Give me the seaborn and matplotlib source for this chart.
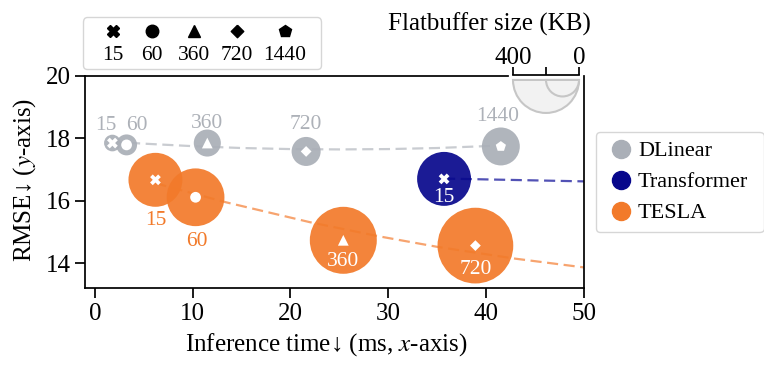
import matplotlib
matplotlib.use("Agg")
import matplotlib.pyplot as plt
from matplotlib.patches import Wedge
from matplotlib.lines import Line2D
from matplotlib.offsetbox import VPacker, DrawingArea
import numpy as np
import pandas as pd
import seaborn as sns

# values
models = ["DLinear", "DLinear", "DLinear", "DLinear", "DLinear",
          "Transformer", "TESLA", "TESLA", "TESLA", "TESLA"]
horizons = [15, 60, 360, 720, 1440, 15, 15, 60, 360, 720]
inference_ms = [1.8, 3.25, 11.5, 21.6, 41.5, 35.7, 6.2, 10.3, 25.4, 38.9]
rmse = [17.85, 17.79, 17.85, 17.58, 17.74, 16.70, 16.67, 16.11, 14.73, 14.56]
flatbuffer_kb = [101, 127, 164, 176, 230, 327, 327, 350, 406, 459]

# dashed trend lines
dlinear_trend_ms = [1.8, 5, 10, 15, 20, 25, 30, 35, 41.5]
dlinear_trend_rmse = [17.89, 17.83, 17.75, 17.69, 17.656, 17.645, 17.656, 17.69, 17.77]
transformer_trend_ms = [35.7, 50]
transformer_trend_rmse = [16.71, 16.62]
tesla_trend_ms = [6.2, 13.4, 22, 29, 35, 43, 50]
tesla_trend_rmse = [16.56, 15.95, 15.31, 14.86, 14.52, 14.14, 13.86]

model_order = ["DLinear", "Transformer", "TESLA"]
horizon_order = [15, 60, 360, 720, 1440]
size_ticks = [400, 200, 0]
size_tick_labels = ["400", "", "0"]
size_circles = [400, 200]

palette = {"DLinear": "#aaafb7", "Transformer": "#07078c", "TESLA": "#f27a2a"}
line_colors = {"DLinear": "#c9ccd1", "Transformer": "#5252b5", "TESLA": "#f7a46f"}
label_colors = ["#adb1b8"] * 5 + ["white", "#f27a2a", "#f27a2a", "white", "white"]
# label offsets from bubble centre in pixels (x right, y down)
label_offsets = [(-7, -20), (10, -22), (0, -22), (0, -29), (-3, -32),
                 (0, 16), (0, 38), (1, 42), (0, 19), (0, 21)]

diamond = np.array([(0, 1), (1, 0), (0, -1), (-1, 0), (0, 1)])
markers = {15: "X", 60: "o", 360: "^", 720: diamond, 1440: "p"}

sns.set_theme(style="ticks")
plt.rcParams["font.family"] = ["Liberation Serif", "DejaVu Serif"]
plt.rcParams["mathtext.fontset"] = "stix"
for k in ["text.color", "axes.labelcolor", "xtick.color", "ytick.color", "axes.edgecolor"]:
    plt.rcParams[k] = "black"

W, H, DPI = 764, 376, 100
fig = plt.figure(figsize=(W / DPI, H / DPI), dpi=DPI)
ax = fig.add_axes([85 / W, 1 - 288 / H, (584 - 85) / W, (288 - 76) / H])

df = pd.DataFrame({"model": models, "horizon": horizons, "ms": inference_ms,
                   "rmse": rmse, "kb": flatbuffer_kb})
df["area"] = df["kb"] ** 2

# bubble diameter is linear in flatbuffer size
px_per_kb = 66 / 400
kb_max = 500
s_max = (kb_max * px_per_kb * 72 / DPI) ** 2

for m, xs, ys in [("DLinear", dlinear_trend_ms, dlinear_trend_rmse),
                  ("Transformer", transformer_trend_ms, transformer_trend_rmse),
                  ("TESLA", tesla_trend_ms, tesla_trend_rmse)]:
    sns.lineplot(x=xs, y=ys, color=line_colors[m], lw=1.6, linestyle=(0, (5, 2.5)),
                 sort=False, estimator=None, ax=ax, zorder=2)

sns.scatterplot(data=df, x="ms", y="rmse", hue="model", palette=palette,
                hue_order=model_order, size="area", sizes=(0, s_max),
                size_norm=(0, kb_max ** 2), alpha=0.92, linewidth=0,
                legend=False, ax=ax, zorder=3)
sns.scatterplot(data=df, x="ms", y="rmse", style="horizon", markers=markers,
                color="white", s=60, linewidth=0, legend=False, ax=ax, zorder=4)

for i, row in df.iterrows():
    dx, dy = label_offsets[i]
    ax.annotate(str(row["horizon"]), (row["ms"], row["rmse"]),
                xytext=(dx * 72 / DPI, -dy * 72 / DPI), textcoords="offset points",
                ha="center", va="center_baseline", fontsize=15.5,
                color=label_colors[i], zorder=5)

ax.set_xlim(-1, 50)
ax.set_ylim(13.2, 20)
ax.set_xticks([0, 10, 20, 30, 40, 50])
ax.set_yticks([14, 16, 18, 20])
ax.tick_params(direction="out", length=7, width=1.25, labelsize=18, pad=3.5)
for sp in ax.spines.values():
    sp.set_linewidth(1.25)
ax.spines["top"].set_bounds(-1, 42.2)
ax.set_xlabel("Inference time\u2193 (ms, $x$-axis)", fontsize=18)
ax.set_ylabel("RMSE\u2193 ($y$-axis)", fontsize=18)
ax.xaxis.set_label_coords(0.483, -0.205)
ax.yaxis.set_label_coords(-0.094, 0.51)


def pad_sides(leg, left=True):
    # extra horizontal room (one column gap) beside the legend entries
    hb = leg._legend_handle_box
    hb._children = ([DrawingArea(0, 0)] if left else []) + hb._children + [DrawingArea(0, 0)]


# horizon marker legend: handles above labels
fs1 = 15.5
h_handles = [Line2D([], [], ls="", marker=markers[h], color="black", markersize=9)
             for h in horizon_order]
leg1 = ax.legend(h_handles, [str(h) for h in horizon_order], ncol=5,
                 loc="lower left", bbox_to_anchor=(-0.004, 1.033), fontsize=fs1,
                 handlelength=29 * 0.72 / fs1, handleheight=1.3,
                 columnspacing=10.7 * 0.72 / fs1, borderpad=0.2, borderaxespad=0)
for col in leg1._legend_handle_box.get_children():
    col.align = "center"
    col._children = [VPacker(pad=0, sep=0.5, align="center", children=hp.get_children())
                     for hp in col.get_children()]
pad_sides(leg1)
ax.add_artist(leg1)

fs2 = 16
m_handles = [Line2D([], [], ls="", marker="o", markersize=13, color=palette[m])
             for m in model_order]
leg2 = ax.legend(m_handles, model_order, loc="center left", bbox_to_anchor=(1.024, 0.5),
                 fontsize=fs2, handlelength=1.44, handletextpad=0.05, borderpad=0.4,
                 labelspacing=0.47, columnspacing=0.3, borderaxespad=0)
pad_sides(leg2, left=False)

# size key
kb_left, kb_right, kb_bottom, kb_top = 430, -18, -215, 30
in_w = (kb_left - kb_right) * px_per_kb
in_h = (kb_top - kb_bottom) * px_per_kb
left_px = 579 - kb_left * px_per_kb
top_px = 75
ax_in = fig.add_axes([left_px / W, 1 - (top_px + in_h) / H, in_w / W, in_h / H])
ax_in.set_xlim(kb_left, kb_right)
ax_in.set_ylim(kb_bottom, kb_top)
ax_in.set_facecolor("none")
for kb in size_circles:
    ax_in.add_patch(Wedge((kb / 2, 0), kb / 2, 180, 360, facecolor="#f2f2f2",
                          edgecolor="#c6c6c6", lw=1.5, clip_on=False))
for side in ["bottom", "left", "right"]:
    ax_in.spines[side].set_visible(False)
ax_in.spines["top"].set_linewidth(1.25)
ax_in.spines["top"].set_bounds(0, 400)
ax_in.xaxis.tick_top()
ax_in.set_xticks(size_ticks)
ax_in.set_xticklabels(size_tick_labels)
ax_in.set_yticks([])
ax_in.tick_params(direction="out", length=5.5, width=1.25, labelsize=18, pad=-1.5)
ax_in.xaxis.set_label_position("top")
ax_in.set_xlabel("Flatbuffer size (KB)", fontsize=18, ha="right")
ax_in.xaxis.set_label_coords((591 - left_px) / in_w, (top_px + in_h - 31) / in_h)

fig.savefig("out.png", dpi=DPI)
